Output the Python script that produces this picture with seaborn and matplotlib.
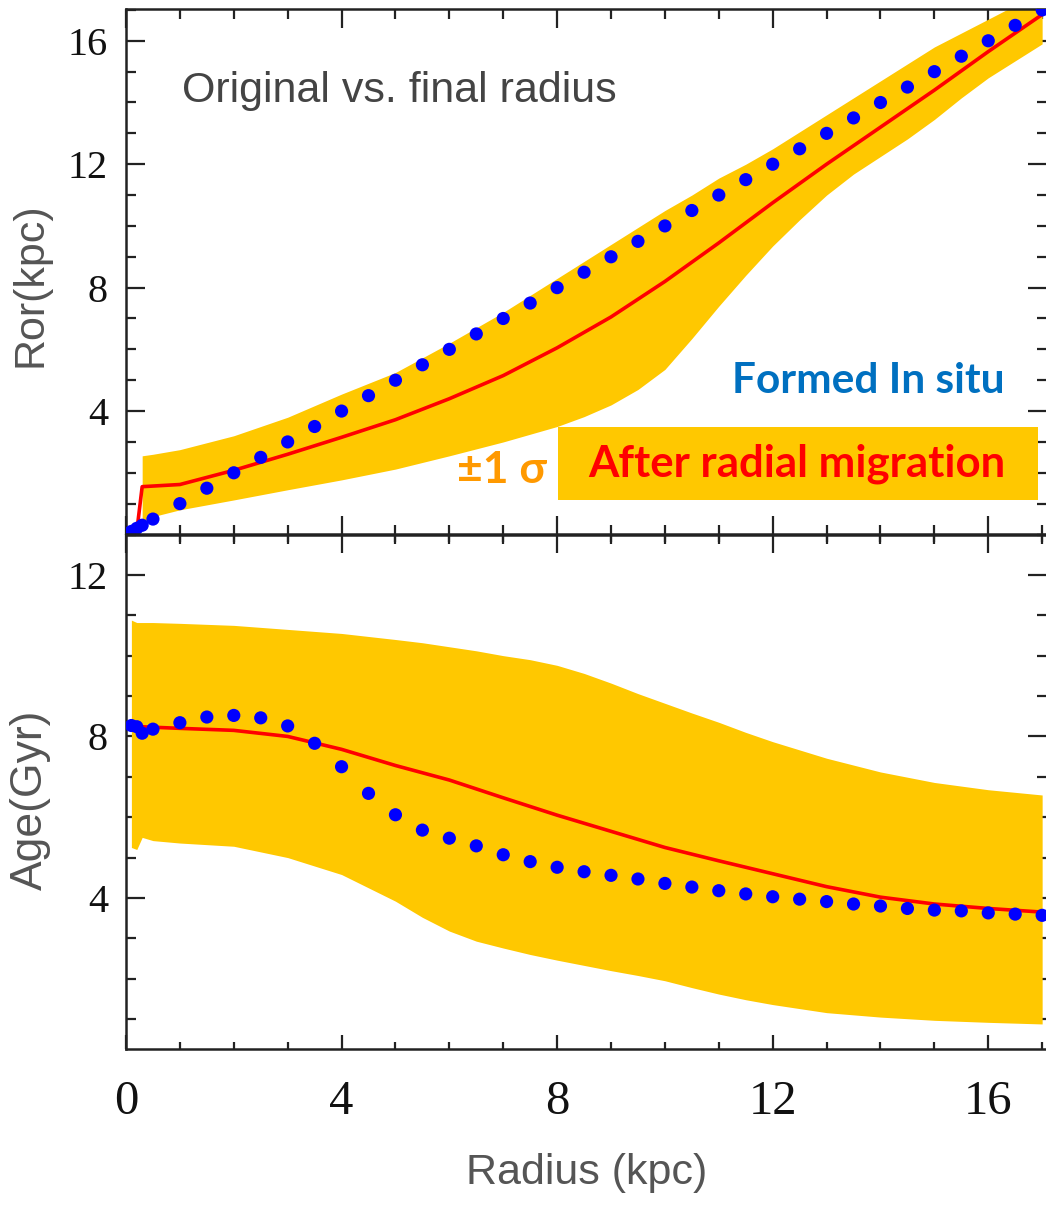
import numpy as np
import pandas as pd
import matplotlib
matplotlib.use("Agg")
import matplotlib.pyplot as plt
from matplotlib.ticker import MultipleLocator, NullFormatter
from matplotlib.patches import Rectangle
import seaborn as sns

# ---------------- data ----------------
# blue dots: formed in situ
dot_radius = [0.1, 0.2, 0.3, 0.5, 1.0, 1.5, 2.0, 2.5, 3.0, 3.5, 4.0, 4.5, 5.0, 5.5,
              6.0, 6.5, 7.0, 7.5, 8.0, 8.5, 9.0, 9.5, 10.0, 10.5, 11.0, 11.5, 12.0,
              12.5, 13.0, 13.5, 14.0, 14.5, 15.0, 15.5, 16.0, 16.5, 17.0]
dot_ror = [0.1, 0.2, 0.3, 0.5, 1.0, 1.5, 2.0, 2.5, 3.0, 3.5, 4.0, 4.5, 5.0, 5.5,
           6.0, 6.5, 7.0, 7.5, 8.0, 8.5, 9.0, 9.5, 10.0, 10.5, 11.0, 11.5, 12.0,
           12.5, 13.0, 13.5, 14.0, 14.5, 15.0, 15.5, 16.0, 16.5, 17.0]
dot_age = [8.27, 8.24, 8.08, 8.18, 8.34, 8.48, 8.52, 8.46, 8.26, 7.83, 7.25, 6.59,
           6.06, 5.68, 5.48, 5.29, 5.07, 4.90, 4.76, 4.65, 4.56, 4.47, 4.36, 4.27,
           4.18, 4.10, 4.03, 3.97, 3.91, 3.85, 3.80, 3.74, 3.70, 3.68, 3.63, 3.60, 3.57]

# top panel: +-1 sigma band of original radius
ror_band_r = [0.3, 0.5, 1, 2, 3, 4, 5, 6, 7, 8, 8.5, 9, 9.5, 10, 10.5, 11, 11.5, 12,
              12.5, 13, 13.5, 14, 14.5, 15, 15.5, 16, 16.5, 17]
ror_low = [0.40, 0.58, 0.80, 1.12, 1.45, 1.77, 2.12, 2.55, 3.00, 3.50, 3.82, 4.20,
           4.70, 5.35, 6.35, 7.40, 8.40, 9.35, 10.20, 11.00, 11.68, 12.25, 12.82,
           13.45, 14.15, 14.80, 15.35, 15.90]
ror_high = [2.55, 2.60, 2.75, 3.20, 3.80, 4.55, 5.25, 6.20, 7.20, 8.30, 8.85, 9.40,
            9.95, 10.50, 11.00, 11.55, 12.00, 12.50, 13.05, 13.60, 14.15, 14.70,
            15.25, 15.80, 16.25, 16.70, 17.15, 17.60]
# top panel: mean original radius after radial migration
ror_line_r = [0.2, 0.3, 1, 2, 3, 4, 5, 6, 7, 8, 9, 10, 11, 12, 13, 14, 15, 16, 17]
ror_line = [0.10, 1.55, 1.62, 2.08, 2.60, 3.15, 3.72, 4.40, 5.15, 6.05, 7.05, 8.20,
            9.45, 10.75, 12.00, 13.20, 14.40, 15.65, 16.85]

# bottom panel: +-1 sigma band of age
age_band_r = [0.1, 0.2, 0.3, 0.5, 1, 2, 3, 4, 5, 5.5, 6, 6.5, 7, 7.5, 8, 8.5, 9,
              9.5, 10, 10.5, 11, 11.5, 12, 13, 14, 15, 16, 17]
age_low = [5.25, 5.20, 5.50, 5.42, 5.36, 5.28, 5.00, 4.58, 3.92, 3.52, 3.18, 2.93,
           2.76, 2.60, 2.46, 2.33, 2.20, 2.08, 1.95, 1.78, 1.62, 1.48, 1.36, 1.16,
           1.05, 0.97, 0.92, 0.88]
age_high = [10.88, 10.82, 10.82, 10.82, 10.80, 10.75, 10.65, 10.55, 10.40, 10.32,
            10.22, 10.12, 10.00, 9.90, 9.76, 9.56, 9.32, 9.06, 8.82, 8.58, 8.35,
            8.10, 7.87, 7.46, 7.12, 6.86, 6.68, 6.55]
# bottom panel: mean age after radial migration
age_line_r = [0.1, 1, 2, 3, 4, 5, 6, 7, 8, 9, 10, 11, 12, 13, 14, 15, 16, 17]
age_line = [8.25, 8.20, 8.15, 8.00, 7.68, 7.28, 6.92, 6.48, 6.05, 5.65, 5.25, 4.92,
            4.60, 4.28, 4.02, 3.85, 3.74, 3.65]

x_ticks = [0, 4, 8, 12, 16]
ror_ticks = [4, 8, 12, 16]
age_ticks = [4, 8, 12]

# ---------------- style ----------------
sns.set_theme(style="ticks")
plt.rcParams["font.family"] = ["Liberation Serif", "DejaVu Serif"]

BAND = "#FFC800"
RED = "#FF0000"
BLUE = "#0000FF"
INK = "#222222"
LABEL_GRAY = "#555555"
SANS = ["Liberation Sans", "DejaVu Sans"]
BOLD = ["Lato", "DejaVu Sans"]

fig = plt.figure(figsize=(10.46, 12.09), dpi=100)
W, H = 1046.0, 1209.0
ax1 = fig.add_axes([126 / W, (H - 534.5) / H, (1047 - 126) / W, 525.5 / H])
ax2 = fig.add_axes([126 / W, (H - 1049) / H, (1047 - 126) / W, 514.5 / H])

dots = pd.DataFrame({"radius": dot_radius, "ror": dot_ror, "age": dot_age})
ror_df = pd.DataFrame({"radius": ror_line_r, "ror": ror_line})
age_df = pd.DataFrame({"radius": age_line_r, "age": age_line})

# top panel
ax1.fill_between(ror_band_r, ror_low, ror_high, color=BAND, lw=0, zorder=1)
sns.lineplot(data=ror_df, x="radius", y="ror", color=RED, lw=2.6, sort=False,
             estimator=None, ax=ax1, zorder=2)
sns.scatterplot(data=dots, x="radius", y="ror", color=BLUE, s=90, edgecolor="none",
                ax=ax1, zorder=3)

# bottom panel
ax2.fill_between(age_band_r, age_low, age_high, color=BAND, lw=0, zorder=1)
sns.lineplot(data=age_df, x="radius", y="age", color=RED, lw=2.6, sort=False,
             estimator=None, ax=ax2, zorder=2)
sns.scatterplot(data=dots, x="radius", y="age", color=BLUE, s=90, edgecolor="none",
                ax=ax2, zorder=3)

# axes limits and ticks
for ax in (ax1, ax2):
    ax.set_xlim(0, 17.09)
    ax.set_xticks(x_ticks)
    ax.xaxis.set_minor_locator(MultipleLocator(1))
    ax.yaxis.set_minor_locator(MultipleLocator(1))
    for sp in ax.spines.values():
        sp.set_visible(True)
        sp.set_linewidth(1.8)
        sp.set_color(INK)
    ax.tick_params(which="both", direction="in", top=True, right=True,
                   color=INK, width=1.6, labelcolor="#111111")
    ax.tick_params(which="major", length=14)
    ax.tick_params(which="minor", length=7.5)
    ax.set_xlabel("")
    ax.set_ylabel("")

ax1.set_ylim(0, 17.03)
ax1.set_yticks(ror_ticks)
ax1.tick_params(axis="x", labelbottom=False)
ax1.tick_params(axis="y", labelsize=29, pad=13)

ax2.set_ylim(0.26, 13.0)
ax2.set_yticks(age_ticks)
ax2.tick_params(axis="y", labelsize=29, pad=13)
ax2.tick_params(axis="x", top=False, labelsize=35, pad=22)
ax2.tick_params(axis="x", which="major", length=10)
ax2.tick_params(axis="x", which="minor", length=5)
sec = ax2.secondary_xaxis("top")
sec.set_xticks(x_ticks)
sec.xaxis.set_minor_locator(MultipleLocator(1))
sec.xaxis.set_major_formatter(NullFormatter())
sec.tick_params(which="both", direction="in", color=INK, width=1.6, labeltop=False)
sec.tick_params(which="major", length=14)
sec.tick_params(which="minor", length=7.5)
sec.spines["top"].set_linewidth(1.8)
sec.spines["top"].set_color(INK)

# axis labels
ax1.set_ylabel("Ror(kpc)", fontfamily=SANS, fontsize=31, color=LABEL_GRAY)
ax1.yaxis.set_label_coords(-0.082, 0.475)
ax2.set_ylabel("Age(Gyr)", fontfamily=SANS, fontsize=32, color=LABEL_GRAY)
ax2.yaxis.set_label_coords(-0.082, 0.484)
ax2.set_xlabel("Radius (kpc)", fontfamily=SANS, fontsize=31, color=LABEL_GRAY)
ax2.xaxis.set_label_coords(0.5005, -0.202)
ax2.xaxis.label.set_va("top")

# annotations
ax1.text(1.03, 14.0, "Original vs. final radius", fontfamily=SANS, fontsize=31,
         color="#444444", ha="left", va="baseline")
ax1.text(16.31, 4.58, "Formed In situ", fontfamily=BOLD, fontweight="bold",
         fontsize=30.5, color="#0070C0", ha="right", va="baseline")
ax1.add_patch(Rectangle((8.01, 1.12), 8.92, 2.37, facecolor=BAND, edgecolor="none",
                        zorder=4))
ax1.text(12.45, 1.87, "After radial migration", fontfamily=BOLD, fontweight="bold",
         fontsize=31.5, color=RED, ha="center", va="baseline", zorder=5)
ax1.text(6.15, 1.66, "±1 σ", fontfamily=BOLD, fontweight="bold", fontsize=32,
         color="#FF9900", ha="left", va="baseline", zorder=5)

fig.savefig("out.png", dpi=100)
